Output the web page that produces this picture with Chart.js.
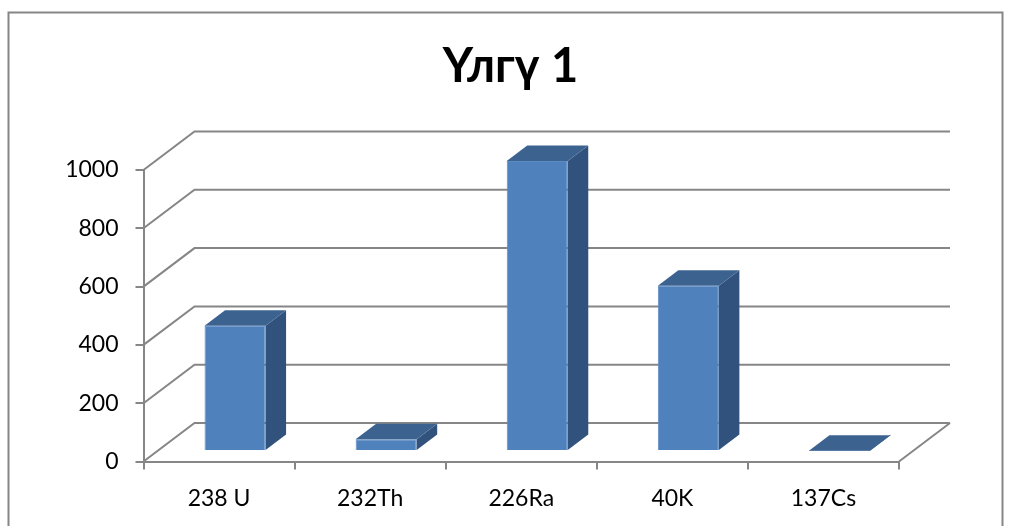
<!DOCTYPE html>
<html>
<head>
<meta charset="utf-8">
<style>html,body{margin:0;padding:0;background:#fff}canvas{display:block}</style>
<script src="https://cdn.jsdelivr.net/npm/chart.js@4"></script>
</head>
<body>
<canvas id="c" width="1011" height="526"></canvas>
<script>
const titleText = 'Үлгү 1';
const categories = ['238 U', '232Th', '226Ra', '40K', '137Cs'];
const values = [430, 40, 995, 567, 1];
const yTicks = [0, 200, 400, 600, 800, 1000];

const GRID = '#868686';
const FRONT = '#4f81bd';
const EDGE = '#5c8cc6';
const SIDE = '#31527c';
const TOP = '#3c6390';
const FONT = 'Lato, Carlito, Calibri, sans-serif';

// Oblique offsets that give the plot its depth
const WALL = { dx: 51, dy: -38.5 };
const BAR_SHIFT = { dx: 16, dy: -10.5 };
const BAR_DEPTH = { dx: 20.5, dy: -15.5 };

function poly(ctx, pts, fill) {
  ctx.beginPath();
  pts.forEach((p, i) => i ? ctx.lineTo(p[0], p[1]) : ctx.moveTo(p[0], p[1]));
  ctx.closePath();
  ctx.fillStyle = fill;
  ctx.fill();
}

const outerFrame = {
  id: 'outerFrame',
  beforeDraw(chart) {
    const ctx = chart.ctx;
    ctx.save();
    ctx.strokeStyle = GRID;
    ctx.lineWidth = 2;
    ctx.beginPath();
    ctx.moveTo(8.5, 526);
    ctx.lineTo(8.5, 12.5);
    ctx.lineTo(1002.5, 12.5);
    ctx.lineTo(1002.5, 526);
    ctx.stroke();
    ctx.restore();
  }
};

const walls3d = {
  id: 'walls3d',
  beforeDatasetsDraw(chart) {
    const { ctx, scales: { x, y } } = chart;
    const right = x.right + WALL.dx;
    ctx.save();
    ctx.strokeStyle = GRID;
    ctx.lineWidth = 2;
    ctx.lineJoin = 'miter';
    yTicks.forEach(v => {
      const py = y.getPixelForValue(v);
      ctx.beginPath();
      ctx.moveTo(x.left, py);
      ctx.lineTo(x.left + WALL.dx, py + WALL.dy);
      ctx.lineTo(right, py + WALL.dy);
      ctx.stroke();
    });
    const py0 = y.getPixelForValue(0);
    ctx.beginPath();
    ctx.moveTo(x.right, py0);
    ctx.lineTo(right, py0 + WALL.dy);
    ctx.stroke();
    ctx.restore();
    // The bars stand in the middle of the floor
    ctx.save();
    ctx.translate(BAR_SHIFT.dx, BAR_SHIFT.dy);
  },
  afterDatasetsDraw(chart) {
    const ctx = chart.ctx;
    chart.getDatasetMeta(0).data.forEach(el => {
      const l = el.x - el.width / 2, r = el.x + el.width / 2;
      const t = el.y, b = el.base;
      const d = BAR_DEPTH;
      poly(ctx, [[r, t], [r + d.dx, t + d.dy], [r + d.dx, b + d.dy], [r, b]], SIDE);
      poly(ctx, [[l, t], [l + d.dx, t + d.dy], [r + d.dx, t + d.dy], [r, t]], TOP);
    });
    ctx.restore();
  }
};

new Chart(document.getElementById('c'), {
  type: 'bar',
  data: {
    labels: categories,
    datasets: [{
      data: values,
      backgroundColor: FRONT,
      borderColor: EDGE,
      borderWidth: 1,
      barPercentage: 0.404,
      categoryPercentage: 1,
      clip: false
    }]
  },
  plugins: [outerFrame, walls3d],
  options: {
    responsive: false,
    animation: false,
    layout: { padding: { left: 10 } },
    plugins: {
      legend: { display: false },
      tooltip: { enabled: false },
      title: {
        display: true,
        text: titleText,
        color: '#000',
        font: { family: FONT, size: 47, weight: 'bold' },
        padding: { top: 39, bottom: 74.6 }
      }
    },
    scales: {
      x: {
        offset: true,
        afterFit(s) { s.height = 64.5; },
        border: { color: GRID, width: 2 },
        grid: { display: true, offset: true, drawOnChartArea: false, drawTicks: true, tickLength: 8, color: GRID, lineWidth: 2 },
        ticks: { color: '#000', padding: 15, font: { family: FONT, size: 23 }, maxRotation: 0 }
      },
      y: {
        min: 0,
        max: 1000,
        afterFit(s) { s.width = 133.5; },
        afterBuildTicks(s) { s.ticks = yTicks.map(v => ({ value: v })); },
        border: { color: GRID, width: 2 },
        grid: { display: true, drawOnChartArea: false, drawTicks: true, tickLength: 8, color: GRID, lineWidth: 2 },
        ticks: { color: '#000', padding: 17, font: { family: FONT, size: 23 }, callback: v => String(v) }
      },
      // Empty axis that reserves the room taken by the receding floor
      depthGutter: {
        position: 'right',
        afterFit(s) { s.width = 112; },
        border: { display: false },
        grid: { display: false },
        ticks: { display: false }
      }
    }
  }
});
</script>
</body>
</html>
